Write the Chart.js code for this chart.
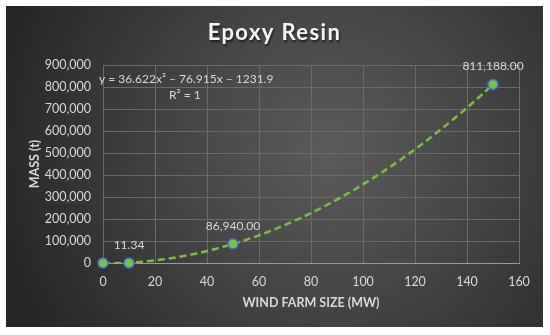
<!DOCTYPE html>
<html>
<head>
<meta charset="utf-8">
<script src="https://cdn.jsdelivr.net/npm/chart.js@4"></script>
<style>
  html, body { margin: 0; padding: 0; background: #ffffff; }
  #wrap { position: absolute; left: 0; top: 0; width: 550px; height: 335px; }
</style>
</head>
<body>
<div id="wrap"><canvas id="c" width="550" height="335"></canvas></div>
<script>
// ---- data ----
const windFarmSize = [0, 10, 50, 150];            // MW
const mass = [0, 11.34, 86940, 811188];           // t
const dataLabels = ['', '11.34', '86,940.00', '811,188.00'];
const trendCoefficients = [36.622, -76.915, -1231.9]; // y = a x^2 + b x + c (as printed)
const trendRange = [0, 150];
const chartTitle = 'Epoxy Resin';
const equationText = 'y = 36.622x\u00B2 \u2013 76.915x \u2013 1231.9';
const rSquaredText = 'R\u00B2 = 1';
const xTicks = [0, 20, 40, 60, 80, 100, 120, 140, 160];
const yTicks = [0, 100000, 200000, 300000, 400000, 500000, 600000, 700000, 800000, 900000];

// trendline evaluated from the printed regression equation
const trendPoints = [];
for (let x = trendRange[0]; x <= trendRange[1]; x += 2) {
  trendPoints.push({x: x, y: trendCoefficients[0]*x*x + trendCoefficients[1]*x + trendCoefficients[2]});
}
const points = windFarmSize.map((x, i) => ({x: x, y: mass[i]}));

const FONT = 'Lato, "Open Sans", sans-serif';
const TXT = '#d9d9d9';
const PANEL = {x0: 6, y0: 6, x1: 543, y1: 327};

const panelPlugin = {
  id: 'panel',
  beforeDraw(chart) {
    const ctx = chart.ctx;
    ctx.save();
    const g = ctx.createRadialGradient(330, 150, 0, 330, 150, 340);
    g.addColorStop(0, '#5b5b5b');
    g.addColorStop(0.5, '#424242');
    g.addColorStop(1, '#262626');
    ctx.fillStyle = g;
    ctx.fillRect(PANEL.x0, PANEL.y0, PANEL.x1 - PANEL.x0, PANEL.y1 - PANEL.y0);
    // title
    ctx.font = 'bold 22px ' + FONT;
    if ('letterSpacing' in ctx) ctx.letterSpacing = '1.4px';
    ctx.textAlign = 'center';
    ctx.textBaseline = 'middle';
    ctx.shadowColor = 'rgba(0,0,0,0.6)';
    ctx.shadowOffsetX = 1;
    ctx.shadowOffsetY = 1.5;
    ctx.shadowBlur = 2;
    ctx.fillStyle = '#f4f4f4';
    ctx.fillText(chartTitle, (PANEL.x0 + PANEL.x1) / 2, 33);
    ctx.restore();
  },
  afterDatasetsDraw(chart) {
    const ctx = chart.ctx;
    const xs = chart.scales.x, ys = chart.scales.y;
    ctx.save();
    ctx.font = '12px ' + FONT;
    ctx.fillStyle = TXT;
    ctx.textAlign = 'center';
    ctx.textBaseline = 'middle';
    points.forEach((p, i) => {
      if (!dataLabels[i]) return;
      ctx.fillText(dataLabels[i], xs.getPixelForValue(p.x), ys.getPixelForValue(p.y) - 18);
    });
    // trendline label
    ctx.fillText(equationText, xs.getPixelForValue(32), ys.getPixelForValue(835000));
    ctx.fillText(rSquaredText, xs.getPixelForValue(31.5), ys.getPixelForValue(762000));
    ctx.restore();
  }
};

new Chart(document.getElementById('c'), {
  type: 'scatter',
  data: {
    datasets: [
      {
        label: 'Epoxy Resin',
        data: points,
        order: 1,
        clip: false,
        pointRadius: 5,
        pointHoverRadius: 5,
        pointBackgroundColor: '#7dbf43',
        pointBorderColor: '#3f6fd0',
        pointBorderWidth: 1.5,
        showLine: false
      },
      {
        label: 'Trend',
        data: trendPoints,
        order: 2,
        showLine: true,
        pointRadius: 0,
        borderColor: '#77c040',
        borderWidth: 2.5,
        borderDash: [7, 4],
        fill: false,
        tension: 0
      }
    ]
  },
  options: {
    responsive: false,
    animation: false,
    events: [],
    layout: { padding: { left: 0, right: 31, top: 65, bottom: 0 } },
    plugins: {
      legend: { display: false },
      tooltip: { enabled: false },
      title: { display: false }
    },
    scales: {
      x: {
        type: 'linear',
        min: 0, max: 160,
        afterBuildTicks(s) { s.ticks = xTicks.map(v => ({value: v})); },
        afterFit(s) { s.height = 72; },
        grid: { color: '#6a6a6a', lineWidth: 1, drawTicks: false },
        border: { color: '#9a9a9a', width: 1 },
        ticks: { color: TXT, font: { family: FONT, size: 12.5 }, padding: 11 },
        title: {
          display: true,
          text: 'WIND FARM SIZE (MW)',
          color: TXT,
          font: { family: FONT, size: 12.5, weight: 'bold' },
          padding: { top: 0, bottom: 25 }
        }
      },
      y: {
        type: 'linear',
        min: 0, max: 900000,
        afterBuildTicks(s) { s.ticks = yTicks.map(v => ({value: v})); },
        afterFit(s) { s.width = 103; },
        grid: { color: '#6a6a6a', lineWidth: 1, drawTicks: false },
        border: { color: '#6a6a6a', width: 1 },
        ticks: {
          color: TXT,
          font: { family: FONT, size: 12.5 },
          padding: 12,
          callback: v => v.toLocaleString('en-US')
        },
        title: {
          display: true,
          text: 'MASS (t)',
          color: TXT,
          font: { family: FONT, size: 12.5, weight: 'bold' },
          padding: { top: 27, bottom: 0 }
        }
      }
    }
  },
  plugins: [panelPlugin]
});
</script>
</body>
</html>
